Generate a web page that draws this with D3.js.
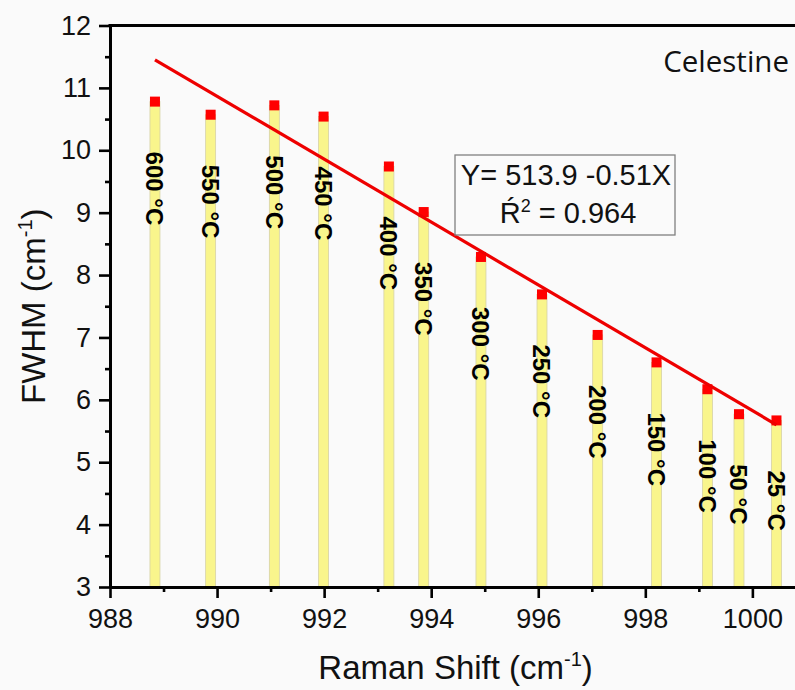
<!DOCTYPE html>
<html><head><meta charset="utf-8">
<script src="https://cdn.jsdelivr.net/npm/d3@7"></script>
<style>html,body{margin:0;padding:0;background:#fafafa;} svg{display:block;}</style>
</head><body>
<svg id="chart" width="795" height="690"></svg>
<script>
// ---- data ----
const ramanShift = [988.84, 989.88, 991.07, 991.99, 993.21, 993.86, 994.93, 996.07, 997.11, 998.21, 999.16, 999.75, 1000.45];
const fwhm       = [10.78, 10.57, 10.72, 10.54, 9.74, 9.01, 8.29, 7.69, 7.04, 6.60, 6.17, 5.77, 5.67];
const tempLabels = ["600 \u00b0C", "550 \u00b0C", "500 \u00b0C", "450 \u00b0C", "400 \u00b0C", "350 \u00b0C", "300 \u00b0C",
                    "250 \u00b0C", "200 \u00b0C", "150 \u00b0C", "100 \u00b0C", "50 \u00b0C", "25 \u00b0C"];
const fitX = [988.84, 1000.45];
const fitY = [11.45, 5.60];
const xTicks = [988, 990, 992, 994, 996, 998, 1000];
const xMinorTicks = [989, 991, 993, 995, 997, 999];
const yTicks = [3, 4, 5, 6, 7, 8, 9, 10, 11, 12];
const yMinorTicks = [3.5, 4.5, 5.5, 6.5, 7.5, 8.5, 9.5, 10.5, 11.5];
const equationLine1 = "Y= 513.9 -0.51X";
const equationR2 = "0.964";
const sampleName = "Celestine";

// ---- layout ----
const svg = d3.select("#chart");
const L = 110, T = 25.5, B = 587, R = 795.2;
const x = d3.scaleLinear().domain([988, 1000.8]).range([L, R]);
const y = d3.scaleLinear().domain([3, 12]).range([B, T]);
const font = "'Liberation Sans', Arial, sans-serif";

svg.append("rect").attr("width", 795).attr("height", 690).attr("fill", "#fafafa");

// bars
const data = ramanShift.map((r, i) => ({r, v: fwhm[i], t: tempLabels[i]}));
svg.append("g").selectAll("rect").data(data).join("rect")
  .attr("x", d => x(d.r) - 5).attr("width", 10)
  .attr("y", d => y(d.v)).attr("height", d => y(3) - y(d.v))
  .attr("fill", "#f9f58c").attr("stroke", "#d6d2a6").attr("stroke-width", 0.8);

// markers
svg.append("g").selectAll("rect").data(data).join("rect")
  .attr("x", d => x(d.r) - 5).attr("y", d => y(d.v) - 5)
  .attr("width", 10).attr("height", 10).attr("fill", "#ff0000");

// labels
svg.append("g").selectAll("text").data(data).join("text")
  .attr("transform", d => `translate(${x(d.r)},${y(d.v) + 50}) rotate(90)`)
  .attr("text-anchor", "start").attr("dominant-baseline", "central")
  .attr("font-family", font).attr("font-weight", "bold").attr("font-size", 24)
  .attr("fill", "#000").text(d => d.t);

// fit line
svg.append("path")
  .datum(fitX.map((v, i) => [v, fitY[i]]))
  .attr("d", d3.line().x(d => x(d[0])).y(d => y(d[1])))
  .attr("stroke", "#ee0000").attr("stroke-width", 3.2).attr("fill", "none");

// axes
const xAxis = svg.append("g").attr("transform", `translate(0,${B})`)
  .call(d3.axisBottom(x).tickValues(xTicks).tickSize(11).tickSizeOuter(0).tickPadding(11).tickFormat(d3.format("d")));
const xMinor = svg.append("g").attr("transform", `translate(0,${B})`)
  .call(d3.axisBottom(x).tickValues(xMinorTicks).tickSize(5).tickSizeOuter(0).tickFormat(""));
const yAxis = svg.append("g").attr("transform", `translate(${L},0)`)
  .call(d3.axisLeft(y).tickValues(yTicks).tickSize(11).tickSizeOuter(0).tickPadding(8).tickFormat(d3.format("d")));
const yMinor = svg.append("g").attr("transform", `translate(${L},0)`)
  .call(d3.axisLeft(y).tickValues(yMinorTicks).tickSize(5).tickSizeOuter(0).tickFormat(""));
[xAxis, xMinor, yAxis, yMinor].forEach(g => {
  g.select(".domain").attr("stroke", "#000").attr("stroke-width", 3);
  g.selectAll(".tick line").attr("stroke", "#000").attr("stroke-width", 2.6);
  g.selectAll(".tick text").attr("font-family", font).attr("font-size", 27).attr("fill", "#111");
});
// top frame line
svg.append("line").attr("x1", L - 1.5).attr("x2", 795).attr("y1", T).attr("y2", T)
  .attr("stroke", "#000").attr("stroke-width", 3);

// axis titles
const xt = svg.append("text").attr("x", (L + R) / 2 + 3).attr("y", 679)
  .attr("text-anchor", "middle").attr("font-family", font).attr("font-size", 33).attr("fill", "#111");
xt.append("tspan").text("Raman Shift (cm");
xt.append("tspan").attr("font-size", 20).attr("dy", -13).text("-1");
xt.append("tspan").attr("dy", 13).text(")");

const yt = svg.append("text").attr("transform", `translate(45,${(T + B) / 2}) rotate(-90)`)
  .attr("text-anchor", "middle").attr("font-family", font).attr("font-size", 33).attr("fill", "#111");
yt.append("tspan").text("FWHM (cm");
yt.append("tspan").attr("font-size", 20).attr("dy", -13).text("-1");
yt.append("tspan").attr("dy", 13).text(")");

// equation box
svg.append("rect").attr("x", 455).attr("y", 155).attr("width", 220).attr("height", 80)
  .attr("fill", "none").attr("stroke", "#808080").attr("stroke-width", 1.3);
svg.append("text").attr("x", 566).attr("y", 185).attr("text-anchor", "middle")
  .attr("font-family", font).attr("font-size", 29).attr("fill", "#111").text(equationLine1);
const r2 = svg.append("text").attr("x", 568).attr("y", 223).attr("text-anchor", "middle")
  .attr("font-family", font).attr("font-size", 29).attr("fill", "#111");
r2.append("tspan").text("\u0154");
r2.append("tspan").attr("font-size", 18).attr("dy", -11).text("2");
r2.append("tspan").attr("dy", 11).text(" = " + equationR2);

// sample name
svg.append("text").attr("x", 789).attr("y", 72).attr("text-anchor", "end")
  .attr("font-family", "'Open Sans', 'Noto Sans', sans-serif").attr("font-size", 29.5).attr("fill", "#111")
  .text(sampleName);
</script>
</body></html>
